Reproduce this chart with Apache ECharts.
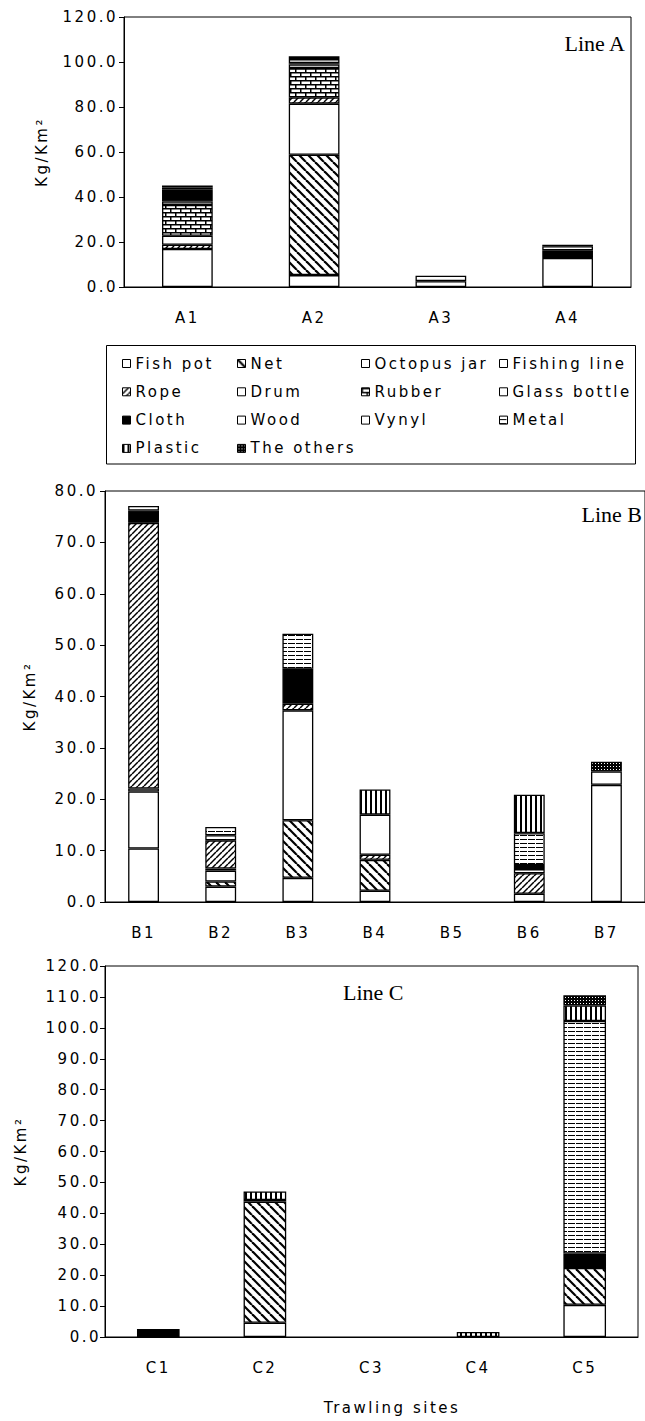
<!DOCTYPE html>
<html><head><meta charset="utf-8">
<script src="https://cdn.jsdelivr.net/npm/echarts@6/dist/echarts.min.js"></script>
<style>
html,body{margin:0;padding:0;background:#fff}
#c{width:645px;height:1421px}
#c svg text{letter-spacing:2.5px}
#c svg text[style*="Serif"]{letter-spacing:0}
</style></head><body><div id="c"></div>
<script>
// ---------- data ----------
const materials = ['Fish pot','Net','Octopus jar','Fishing line','Rope','Drum','Rubber','Glass bottle','Cloth','Wood','Vynyl','Metal','Plastic','The others'];
const sitesA = ['A1','A2','A3','A4'];
const sitesB = ['B1','B2','B3','B4','B5','B6','B7'];
const sitesC = ['C1','C2','C3','C4','C5'];
const yTicksA = [0, 120, 20];
const yTicksB = [0, 80, 10];
const yTicksC = [0, 120, 10];
// values per site, in the order of `materials` (Kg/Km2)
const A1 = [16.9, 0, 0, 0, 1.9, 4.0, 13.7, 1.5, 5.2, 1.0, 0.9, 0, 0, 0];
const A2 = [5.3, 53.5, 22.7, 0, 2.8, 0, 13.0, 1.6, 0.6, 1.8, 0, 1.2, 0, 0];
const A3 = [2.6, 0, 2.4, 0, 0, 0, 0, 0, 0, 0, 0, 0, 0, 0];
const A4 = [12.9, 0, 0, 0, 0, 0, 0, 0, 3.4, 1.8, 0, 0.7, 0, 0];
const B1 = [10.4, 0, 11.1, 0.6, 51.7, 0, 0, 0, 2.4, 0.9, 0, 0, 0, 0];
const B2 = [3.0, 1.0, 2.1, 0.4, 5.5, 0, 0, 0, 0, 1.0, 0, 1.6, 0, 0];
const B3 = [4.7, 11.2, 21.4, 0, 1.3, 0, 0, 0, 6.8, 0, 0, 6.8, 0, 0];
const B4 = [2.2, 6.0, 0, 0, 1.0, 0, 0, 0, 0, 0, 7.8, 0, 4.9, 0];
const B5 = [0, 0, 0, 0, 0, 0, 0, 0, 0, 0, 0, 0, 0, 0];
const B6 = [1.6, 0, 0, 0, 4.0, 0, 0, 0.8, 0.8, 0, 0, 6.2, 7.5, 0];
const B7 = [22.8, 0, 2.6, 0, 0, 0, 0, 0, 0, 0, 0, 0, 0, 1.9];
const C1 = [0, 0, 0, 0, 0, 0, 0, 0, 2.6, 0, 0, 0, 0, 0];
const C2 = [4.6, 39.2, 0, 0, 0, 0, 0, 0, 0, 0.5, 0, 0, 2.8, 0];
const C3 = [0, 0, 0, 0, 0, 0, 0, 0, 0, 0, 0, 0, 0, 0];
const C4 = [0, 0, 0, 0, 0, 0, 0, 0, 0, 0, 0, 0, 1.6, 0];
const C5 = [10.4, 11.9, 0, 0, 0, 0, 0, 0, 4.2, 0.5, 0, 75.2, 5.0, 3.3];
const legendCols = [
  ['Fish pot','Rope','Cloth','Plastic'],
  ['Net','Drum','Wood','The others'],
  ['Octopus jar','Rubber','Vynyl'],
  ['Fishing line','Glass bottle','Metal']
];

// ---------- fill patterns ----------
function tile(w, h, draw) {
  const c = document.createElement('canvas');
  c.width = w; c.height = h;
  const x = c.getContext('2d');
  x.fillStyle = '#fff'; x.fillRect(0, 0, w, h);
  x.fillStyle = '#000'; x.strokeStyle = '#000';
  draw(x, w, h);
  return { image: c, repeat: 'repeat', imageWidth: w, imageHeight: h };
}
function diag(x, s, lw, back) {
  x.lineWidth = lw;
  for (let i = -1; i <= 1; i++) {
    x.beginPath();
    if (back) { x.moveTo(i * s, 0); x.lineTo(i * s + s, s); }
    else { x.moveTo(i * s + s, 0); x.lineTo(i * s, s); }
    x.stroke();
  }
}
const fills = {
  'Net': tile(9, 9, (x) => diag(x, 9, 2.2, true)),
  'Rope': tile(6, 6, (x) => diag(x, 6, 1.5, false)),
  'Rubber': tile(10, 8, (x) => { x.fillRect(0,0,10,1.5); x.fillRect(0,4,10,1.5); x.fillRect(0,0,1.5,4); x.fillRect(5,4,1.5,4); }),
  'Cloth': '#000',
  'Metal': tile(8, 4, (x) => { x.fillRect(0,3,7,1); }),
  'Plastic': tile(5, 4, (x) => { x.fillRect(0,0,2,4); }),
  'The others': tile(3, 3, (x) => { x.fillRect(0,0,3,3); x.fillStyle='#fff'; x.fillRect(1,1,1,1); })
};
function fillFor(name) { return fills[name] || '#fff'; }

// ---------- chart ----------
const FONT = 'DejaVu Sans';
const grids = [
  { left: 124, top: 17, width: 507, height: 270 },
  { left: 105, top: 491, width: 542, height: 411 },
  { left: 105, top: 966, width: 533, height: 371 }
];
const charts = [
  { sites: sitesA, rows: [A1, A2, A3, A4], ticks: yTicksA, lblMargin: 6, nameGap: 75 },
  { sites: sitesB, rows: [B1, B2, B3, B4, B5, B6, B7], ticks: yTicksB, lblMargin: 7, nameGap: 68 },
  { sites: sitesC, rows: [C1, C2, C3, C4, C5], ticks: yTicksC, lblMargin: 4, nameGap: 77 }
];
const txt = { fontFamily: FONT, fontSize: 15, color: '#000' };

const xAxis = [], yAxis = [], series = [];
charts.forEach((ch, g) => {
  xAxis.push({
    type: 'category', gridIndex: g, data: ch.sites,
    axisLine: { lineStyle: { color: '#000', width: 1 } },
    axisTick: { inside: true, length: 5, lineStyle: { color: '#000' } },
    axisLabel: Object.assign({ margin: 23 }, txt),
    splitLine: { show: false }
  });
  yAxis.push({
    type: 'value', gridIndex: g, min: ch.ticks[0], max: ch.ticks[1], interval: ch.ticks[2],
    name: 'Kg/Km²', nameLocation: 'middle', nameGap: ch.nameGap, nameTextStyle: txt,
    axisLine: { show: true, lineStyle: { color: '#000', width: 1 } },
    axisTick: { show: true, inside: false, length: 5, lineStyle: { color: '#000' } },
    axisLabel: Object.assign({ margin: ch.lblMargin, formatter: (v) => v.toFixed(1) }, txt),
    splitLine: { show: false }
  });
  materials.forEach((m, k) => {
    series.push({
      type: 'bar', name: m, stack: 'line' + g, xAxisIndex: g, yAxisIndex: g,
      barWidth: '40%',
      data: ch.rows.map((r) => (r[k] ? r[k] : '-')),
      itemStyle: { color: fillFor(m), borderColor: '#000', borderWidth: 1.3 },
      emphasis: { disabled: true }
    });
  });
});

const legendLeft = [122, 237, 361, 499];
const legend = legendCols.map((names, i) => ({
  data: names, orient: 'vertical', left: legendLeft[i], top: 356,
  itemWidth: 8, itemHeight: 8, itemGap: 13.3, padding: 0, icon: 'rect',
  selectedMode: false,
  itemStyle: { borderColor: '#000', borderWidth: 1 },
  textStyle: { fontFamily: FONT, fontSize: 15, color: '#000', lineHeight: 15 }
}));

const serif = 'Liberation Serif';
const chart = echarts.init(document.getElementById('c'), null, { renderer: 'svg', width: 645, height: 1421 });
chart.setOption({
  backgroundColor: '#fff',
  animation: false,
  grid: grids.map((g) => Object.assign({ show: true, borderColor: '#000', borderWidth: 1, backgroundColor: 'transparent', containLabel: false }, g)),
  xAxis, yAxis, series, legend,
  graphic: [
    { type: 'rect', silent: true, shape: { x: 106.5, y: 345.5, width: 529, height: 118.5 }, style: { fill: 'none', stroke: '#000', lineWidth: 1 } },
    { type: 'text', silent: true, x: 625, y: 43, style: { text: 'Line A', fontFamily: serif, fontSize: 22, fill: '#000', align: 'right', verticalAlign: 'middle' } },
    { type: 'text', silent: true, x: 642, y: 514, style: { text: 'Line B', fontFamily: serif, fontSize: 22, fill: '#000', align: 'right', verticalAlign: 'middle' } },
    { type: 'text', silent: true, x: 343, y: 992, style: { text: 'Line C', fontFamily: serif, fontSize: 22, fill: '#000', align: 'left', verticalAlign: 'middle' } },
    { type: 'text', silent: true, x: 392, y: 1408, style: { text: 'Trawling sites', fontFamily: FONT, fontSize: 15, fill: '#000', align: 'center', verticalAlign: 'middle' } }
  ]
});
</script></body></html>
